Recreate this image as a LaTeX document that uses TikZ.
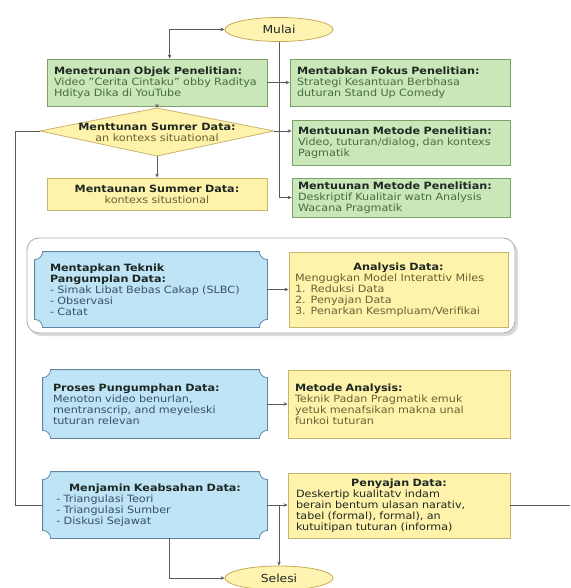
\documentclass[tikz,border=0pt]{standalone}
\usepackage{fontspec}
\setmainfont[FakeStretch=1.12]{DejaVu Sans}
\usetikzlibrary{shapes.geometric,calc,arrows.meta}
\definecolor{gfill}{RGB}{201,231,184}
\definecolor{gdraw}{RGB}{125,160,105}
\definecolor{gtext}{RGB}{70,110,60}
\definecolor{yfill}{RGB}{255,242,170}
\definecolor{ydraw}{RGB}{200,180,110}
\definecolor{ytext}{RGB}{110,95,50}
\definecolor{bfill}{RGB}{191,228,245}
\definecolor{bdraw}{RGB}{95,135,165}
\definecolor{btext}{RGB}{55,80,105}
\definecolor{efill}{RGB}{255,243,178}
\definecolor{edraw}{RGB}{200,170,85}
\definecolor{ttext}{RGB}{30,40,35}
\definecolor{lcol}{RGB}{90,90,90}
\pgfdeclarelayer{back}
\pgfdeclarelayer{bg}
\pgfsetlayers{back,bg,main}
\newcommand\plaquebox[1]{%
 \begin{pgfonlayer}{bg}
 \path[blueshape] ($(#1.north west)+(8,0)$) -- ($(#1.north east)+(-8,0)$)
  .. controls ($(#1.north east)+(-8,4.4)$) and ($(#1.north east)+(-4.4,8)$) .. ($(#1.north east)+(0,8)$)
  -- ($(#1.south east)+(0,-8)$)
  .. controls ($(#1.south east)+(-4.4,-8)$) and ($(#1.south east)+(-8,-4.4)$) .. ($(#1.south east)+(-8,0)$)
  -- ($(#1.south west)+(8,0)$)
  .. controls ($(#1.south west)+(8,-4.4)$) and ($(#1.south west)+(4.4,-8)$) .. ($(#1.south west)+(0,-8)$)
  -- ($(#1.north west)+(0,8)$)
  .. controls ($(#1.north west)+(4.4,8)$) and ($(#1.north west)+(8,4.4)$) .. cycle;
 \end{pgfonlayer}}
\newcommand\ttl[1]{{\color{ttext}\bfseries #1}}
\newcommand\cttl[1]{\makebox[\linewidth]{\color{ttext}\bfseries #1}}
\tikzset{
 basebox/.style={rectangle, inner sep=0pt, line width=0.8pt, align=left,
   font=\fontsize{10}{11}\selectfont},
 greenbox/.style={basebox, draw=gdraw, fill=gfill, text=gtext},
 yellowbox/.style={basebox, draw=ydraw, fill=yfill, text=ytext},
 bluebox/.style={basebox, draw=none, text=btext},
 blueshape/.style={draw=bdraw, fill=bfill, line width=0.8pt},
 oval/.style={ellipse, draw=edraw, fill=efill, line width=0.8pt, minimum width=108pt,
   minimum height=24pt, inner sep=0pt, font=\fontsize{11}{13}\selectfont, text=ttext},
 dshape/.style={draw=ydraw, fill=yfill, line width=0.8pt},
 conn/.style={draw=lcol, line width=0.8pt},
 arr/.style={conn, -{Stealth[length=4pt,width=3.5pt]}},
 darr/.style={conn, {Stealth[length=4pt,width=3.5pt]}-{Stealth[length=4pt,width=3.5pt]}},
 groupbox/.style={draw=gray!60, fill=white, line width=0.9pt, rounded corners=12pt}
}
\begin{document}
\begin{tikzpicture}[x=1pt,y=-1pt]
\begin{pgfonlayer}{back}
\fill[white] (0,0) rectangle (570,588);
\end{pgfonlayer}
\useasboundingbox (0,0) rectangle (570,588);
% group frame
\begin{pgfonlayer}{bg}
\fill[gray!30, rounded corners=12pt] (29,241) rectangle (518,336);
\path[groupbox] (27,238) rectangle (515,333);
\end{pgfonlayer}
% ellipses
\node[oval] (mulai) at (279,29.5) {Mulai};
\node[oval] (selesai) at (279,578) {Selesi};
% row 1
\node[greenbox, minimum width=220pt, minimum height=47pt, text width=206pt] (obj) at (157,82.5)
 {\ttl{Menetrunan Objek Penelitian:}\\Video "Cerita Cintaku" obby Raditya\\Hditya Dika di YouTube};
\node[greenbox, minimum width=220pt, minimum height=47pt, text width=206pt] (fokus) at (400,82.5)
 {\ttl{Mentabkan Fokus Penelitian:}\\Strategi Kesantuan Berbhasa\\duturan Stand Up Comedy};
% diamond
\coordinate (dW) at (40,131);
\coordinate (dE) at (274,131);
\coordinate (dN) at (157,108);
\coordinate (dS) at (157,156);
\path[dshape] (dW) -- (dN) -- (dE) -- (dS) -- cycle;
\node[basebox, align=center, text=ytext] (dia) at (157,132)
 {\ttl{Menttunan Sumrer Data:}\\an kontexs situational};
\node[greenbox, minimum width=218pt, minimum height=45pt, text width=206pt] (met1) at (401,142.5)
 {\ttl{Mentuunan Metode Penelitian:}\\Video, tuturan/dialog, dan kontexs\\Pagmatik};
\node[yellowbox, align=center, minimum width=220pt, minimum height=32pt, text width=206pt] (ysum) at (157,194)
 {\ttl{Mentaunan Summer Data:}\\kontexs situstional};
\node[greenbox, minimum width=218pt, minimum height=39pt, text width=206pt] (met2) at (401,197.5)
 {\ttl{Mentuunan Metode Penelitian:}\\Deskriptif Kualitair watn Analysis\\Wacana Pragmatik};
% group content
\node[bluebox, minimum width=232pt, minimum height=75pt, text width=202pt] (tek) at (151,289.5)
 {\ttl{Mentapkan Teknik}\\\ttl{Pangumplan Data:}\\- Simak Libat Bebas Cakap (SLBC)\\- Observasi\\- Catat};
\plaquebox{tek}
\node[yellowbox, minimum width=219pt, minimum height=75pt, text width=207pt] (ana) at (398.5,289.5)
 {\cttl{Analysis Data:}\\Mengugkan Model Interattiv Miles\\1. Reduksi Data\\2. Penyajan Data\\3. Penarkan Kesmpluam/Verifikai};
% row proses
\node[bluebox, minimum width=224pt, minimum height=68pt, text width=204pt] (pros) at (155,404)
 {\ttl{Proses Pungumphan Data:}\\Menoton video benurlan,\\mentranscrip, and meyeleski\\tuturan relevan};
\plaquebox{pros}
\node[yellowbox, minimum width=222pt, minimum height=68pt, text width=208pt] (metA) at (399,404)
 {\ttl{Metode Analysis:}\\Teknik Padan Pragmatik emuk\\yetuk menafsikan makna unal\\funkoi tuturan};
% row keabsahan
\node[bluebox, minimum width=224pt, minimum height=66pt, text width=204pt] (keab) at (155,505)
 {\cttl{Menjamin Keabsahan Data:}\\\ - Triangulasi Teori\\\ - Triangulasi Sumber\\\ - Diskusi Sejawat};
\plaquebox{keab}
\node[yellowbox, minimum width=222pt, minimum height=65pt, text width=206pt] (peny) at (399,505.5)
 {\cttl{Penyajan Data:}\\{\color{ttext}Deskertip kualitatv indam}\\{\color{ttext}berain bentum ulasan narativ,}\\{\color{ttext}tabel (formal), formal), an}\\{\color{ttext}kutuitipan tuturan (informa)}};
% connectors
\draw[darr] (mulai.west) -| ($(obj.north west)+(123,0)$);
\draw[conn] (mulai.south) -- (mulai.south |- met2.west);
\draw[arr] (mulai.south |- met2.west) -- (met2.west);
\draw[arr] (obj.east) -- (fokus.west);
\draw[arr] (obj.south) -- (dN);
\draw[arr] (dE) -- (dE -| met1.west);
\draw[arr] (dS) -- (ysum.north);
\coordinate (lx) at (15,131);
\draw[conn] (dW) -- (lx) |- (keab.west);
\draw[arr] (tek.east) -- (ana.west);
\draw[arr] (pros.east) -- (metA.west);
\draw[arr] (keab.east) -- (keab.east -| peny.west);
\draw[arr] (keab.east -| selesai.north) -- (selesai.north);
\draw[arr] ($(keab.south west)+(127,0)$) |- (selesai.west);
\coordinate (redge) at (570,505);
\draw[conn] (peny.east |- redge) -- (redge);
\end{tikzpicture}
\end{document}
